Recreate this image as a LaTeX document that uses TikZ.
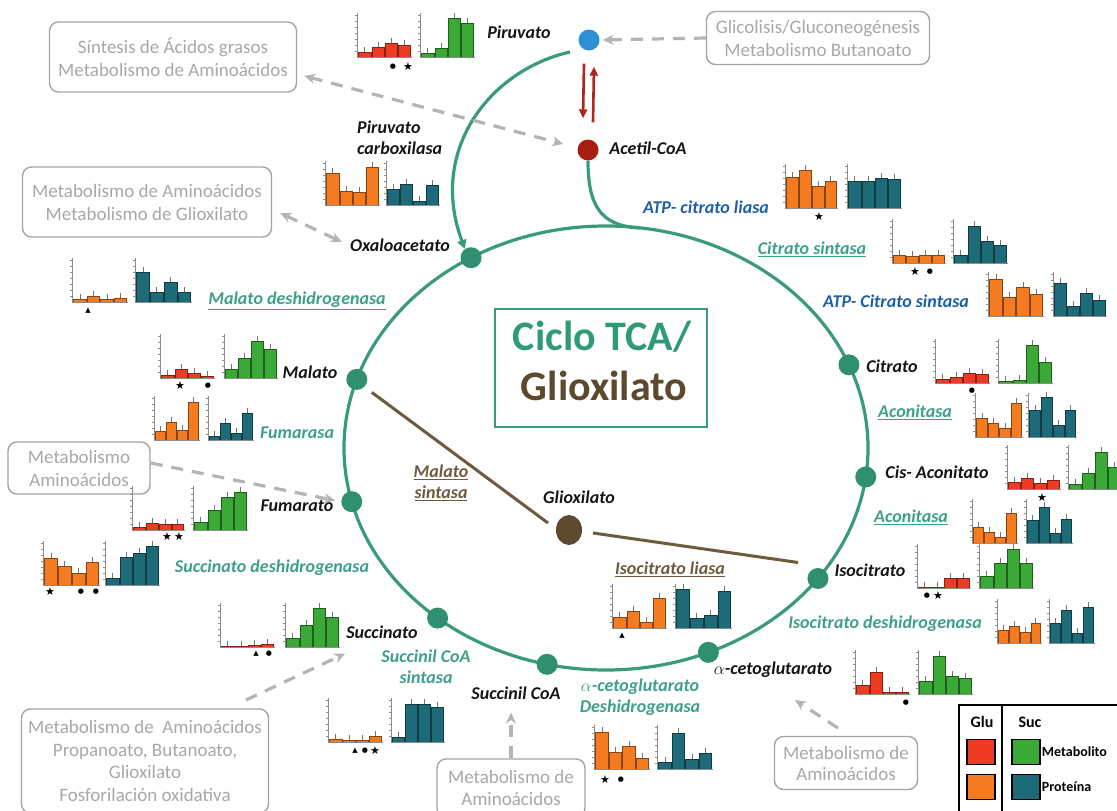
\documentclass[tikz,border=0pt]{standalone}
\usepackage{fontspec}
\setmainfont{Carlito}
\newfontfamily\symfont{DejaVu Sans}
\usetikzlibrary{arrows.meta,calc,shapes.geometric}

\definecolor{cyclegreen}{HTML}{3A9A7D}
\definecolor{nodegreen}{HTML}{2F8F70}
\definecolor{enzgreen}{HTML}{3FA08A}
\definecolor{titlegreen}{HTML}{2E9A78}
\definecolor{atpblue}{HTML}{1F5FA8}
\definecolor{labelblack}{HTML}{151515}
\definecolor{glxbrown}{HTML}{6E5A3C}
\definecolor{glxnode}{HTML}{5E4A2E}
\definecolor{titlebrown}{HTML}{5C4A2C}
\definecolor{pirblue}{HTML}{2E8FD8}
\definecolor{acred}{HTML}{A81E10}
\definecolor{redarrow}{HTML}{B0261C}
\definecolor{boxgray}{HTML}{A5A5A5}
\definecolor{boxtext}{HTML}{A8A8A8}
\definecolor{dashgray}{HTML}{B4B4B4}
\definecolor{barred}{HTML}{EE3B24}
\definecolor{barorange}{HTML}{F47B20}
\definecolor{bargreen}{HTML}{3AA935}
\definecolor{barteal}{HTML}{1D6B78}

% small bar chart: axis x, baseline y, colour, width, list of four bar heights
\newcommand{\tcabars}[5]{%
  \draw[chartaxis] (#1,{#2+1}) -- (#1,{#2-44});
  \foreach \k in {1,...,7}{\draw[chartaxis] ({#1-2},{#2-\k*6}) -- (#1,{#2-\k*6});}
  \foreach \h [count=\i] in {#5}{%
    \pgfmathsetmacro\bw{(#4-2)/4}%
    \pgfmathsetmacro\bx{#1+1.5+(\i-1)*\bw}%
    \filldraw[fill=#3, draw=#3!55!black, line width=0.5pt] (\bx,#2) rectangle ({\bx+\bw-1},{#2-\h});
    \draw[errbar] ({\bx+\bw/2-0.5},{#2-\h}) -- ({\bx+\bw/2-0.5},{#2-\h-5});
  }
  \draw[chartaxis] (#1,#2) -- ({#1+#4},#2);
}
% significance symbols under a bar
\newcommand{\sigstar}[2]{\node[sigsym, font=\symfont\fontsize{11}{11}\selectfont] at (#1,#2) {★};}
\newcommand{\sigdot}[2]{\node[sigsym, font=\symfont\fontsize{7}{7}\selectfont] at (#1,#2) {●};}
\newcommand{\sigtri}[2]{\node[sigsym, font=\symfont\fontsize{7}{7}\selectfont] at (#1,#2) {▲};}

\begin{document}
\begin{tikzpicture}[x=1pt,y=-1pt,
  lbl/.style={font=\fontsize{18}{21}\selectfont\bfseries\itshape, text=labelblack, inner sep=1pt},
  enz/.style={lbl, text=enzgreen, align=center},
  graybox/.style={draw=boxgray, line width=1.4pt, rounded corners=9pt, text=boxtext,
    font=\fontsize{19}{23}\selectfont, align=center, inner sep=0pt},
  dasharr/.style={draw=dashgray, line width=3.2pt, dash pattern=on 12pt off 9pt,
    -{Stealth[length=11pt,width=10pt]}},
  dbl/.style={{Stealth[length=11pt,width=10pt]}-{Stealth[length=11pt,width=10pt]}},
  cyc/.style={draw=cyclegreen, line width=3.2pt},
  tcanode/.style={circle, fill=nodegreen, minimum size=21pt, inner sep=0pt},
  metab/.style={circle, minimum size=21pt, inner sep=0pt},
  brownline/.style={draw=glxbrown, line width=3pt},
  redarr/.style={draw=redarrow, line width=2.6pt, -{Triangle[length=9pt,width=8pt]}},
  chartaxis/.style={draw=black!45, line width=0.5pt},
  errbar/.style={draw=black!55, line width=0.5pt},
  sigsym/.style={inner sep=0pt},
  legbox/.style={draw=black, line width=1.5pt}
]
\useasboundingbox (0,0) rectangle (1117,811);
\fill[white] (0,0) rectangle (1117,811);

% ---- cycle ----
\draw[cyc] (606,448) ellipse [x radius=262pt, y radius=222pt];

\node[tcanode] (oxa) at ({606+262*cos(121)},{448-222*sin(121)}) {};
\node[tcanode] (cit) at ({606+262*cos(22)},{448-222*sin(22)}) {};
\node[tcanode] (cis) at ({606+262*cos(-7.5)},{448-222*sin(-7.5)}) {};
\node[tcanode] (iso) at ({606+262*cos(-36)},{448-222*sin(-36)}) {};
\node[tcanode] (akg) at ({606+262*cos(-67)},{448-222*sin(-67)}) {};
\node[tcanode] (scoa) at ({606+262*cos(-103)},{448-222*sin(-103)}) {};
\node[tcanode] (suc) at ({606+262*cos(-130)},{448-222*sin(-130)}) {};
\node[tcanode] (fum) at ({606+262*cos(-166)},{448-222*sin(-166)}) {};
\node[tcanode] (mal) at ({606+262*cos(162)},{448-222*sin(162)}) {};

% ---- entry from pyruvate / acetyl-CoA ----
\node[metab, fill=pirblue] (pir) at (589,40) {};
\node[metab, fill=acred] (acoa) at (588,150) {};
\coordinate (pyrout) at (570,52);
\coordinate (acjoin) at (640,228);
\draw[cyc, -{Triangle[length=9pt,width=9pt]}] (pyrout) .. controls (490,70) and (428,150) .. (oxa.125);
\draw[cyc] (acoa.south) .. controls (588,205) and (600,226) .. (acjoin);
\draw[redarr] ([shift={(-5,13)}]pir.south) -- ([shift={(-5,-21)}]acoa.north);
\draw[redarr] ([shift={(5,-17)}]acoa.north) -- ([shift={(5,16)}]pir.south);

% ---- glyoxylate shunt ----
\node[ellipse, fill=glxnode, minimum width=26pt, minimum height=30pt, inner sep=0pt] (glx) at (569,530) {};
\draw[brownline] ([shift={(15,13)}]mal.center) -- ([shift={(-21,-7)}]glx.center);
\draw[brownline] ([shift={(24,3)}]glx.center) -- ([shift={(-20,-16)}]iso.center);

% ---- title ----
\node[draw=cyclegreen, line width=1.5pt, minimum width=212pt, minimum height=118pt] (title) at (601,368) {};
\node[anchor=base, font=\fontsize{42}{50}\selectfont\bfseries, text=titlegreen] at (602,350) {Ciclo TCA/};
\node[anchor=base, font=\fontsize{42}{50}\selectfont\bfseries, text=titlebrown] at (604,400) {Glioxilato};

% ---- metabolite labels ----
\node[lbl] (pirlbl) at (519,32) {Piruvato};
\node[lbl] (acoalbl) at (648,148) {Acetil-CoA};
\node[lbl, align=left, anchor=west] (pclbl) at (356,138) {Piruvato\\carboxilasa};
\node[lbl] (oxalbl) at (400,245) {Oxaloacetato};
\node[lbl] (mallbl) at (310,372) {Malato};
\node[lbl] (fumlbl) at (297,506) {Fumarato};
\node[lbl] (suclbl) at (382,632) {Succinato};
\node[lbl] (scoalbl) at (516,693) {Succinil CoA};
\node[lbl] (akglbl) at (773,670) {$\alpha$-cetoglutarato};
\node[lbl] (isolbl) at (870,570) {Isocitrato};
\node[lbl] (cislbl) at (937,472) {Cis- Aconitato};
\node[lbl] (citlbl) at (892,366) {Citrato};
\node[lbl] (glxlbl) at (579,497) {Glioxilato};

% ---- enzyme labels ----
\node[enz, text=atpblue] at (706,207) {ATP- citrato liasa};
\node[enz] at (812,249) {\underline{Citrato sintasa}};
\node[enz, text=atpblue] at (896,301) {ATP- Citrato sintasa};
\node[enz] at (915,412) {\underline{Aconitasa}};
\node[enz] at (911,517) {\underline{Aconitasa}};
\node[enz] at (885,624) {Isocitrato deshidrogenasa};
\node[enz] at (640,697) {$\alpha$-cetoglutarato\\Deshidrogenasa};
\node[enz] at (426,667) {Succinil CoA\\sintasa};
\node[enz] at (272,568) {Succinato deshidrogenasa};
\node[enz] at (297,433) {Fumarasa};
\node[enz] at (297,301) {\underline{Malato deshidrogenasa}};
\node[enz, text=glxbrown] at (441,483) {\underline{Malato}\\\underline{sintasa}};
\node[enz, text=glxbrown] at (670,569) {\underline{Isocitrato liasa}};

% ---- related pathways ----
\node[graybox, minimum width=223pt, minimum height=53pt] (glico) at (818,38) {Glicolisis/Gluconeogénesis\\Metabolismo Butanoato};
\node[graybox, minimum width=247pt, minimum height=70pt] (sint) at (173,57) {Síntesis de Ácidos grasos\\Metabolismo de Aminoácidos};
\node[graybox, minimum width=249pt, minimum height=70pt] (gbox) at (147,202) {Metabolismo de Aminoácidos\\Metabolismo de Glioxilato};
\node[graybox, minimum width=142pt, minimum height=52pt] (abox) at (79,468) {Metabolismo\\Aminoácidos};
\node[graybox, minimum width=247pt, minimum height=104pt, font=\fontsize{19}{22.5}\selectfont] (blbox) at (145,761) {Metabolismo de\ \ Aminoácidos\\Propanoato, Butanoato,\\Glioxilato\\Fosforilación oxidativa};
\node[graybox, minimum width=148pt, minimum height=58pt, font=\fontsize{19}{21.5}\selectfont] (mbox) at (511,788) {Metabolismo de\\Aminoácidos};
\node[graybox, minimum width=143pt, minimum height=53pt, font=\fontsize{19}{21}\selectfont] (rbox) at (846,763) {Metabolismo de\\Aminoácidos};

\draw[dasharr, shorten >=3pt] (glico.west) -- (pir.east);
\draw[dasharr, dbl] ([shift={(7,19)}]sint.east) -- ([shift={(-14,-6)}]acoa.west);
\draw[dasharr, dbl] ([shift={(8,11)}]gbox.east) -- ([shift={(-7,-3)}]oxalbl.west);
\draw[dasharr, shorten >=6pt] ([yshift=5pt]abox.east) -- (fum.west);
\coordinate (blstart) at (246,700);
\draw[dasharr] (blstart) -- ([shift={(0,14)}]suclbl.south west);
\draw[dasharr, shorten >=12pt] (mbox.north) -- (mbox.north |- scoalbl.south);
\coordinate (rstart) at (838,728);
\draw[dasharr] (rstart) -- (795,700);

% ---- bar charts ----
% Piruvato
\tcabars{357}{57}{barred}{55}{5,10,14,12}
\tcabars{420}{57}{bargreen}{55}{4,9,39,34}
\sigdot{393}{67}\sigstar{408}{67}
% Piruvato carboxilasa
\tcabars{325}{205}{barorange}{55}{32,14,13,38}
\tcabars{386}{205}{barteal}{54}{16,21,4,20}
% ATP- citrato liasa
\tcabars{785}{208}{barorange}{53}{31,38,22,27}
\tcabars{847}{208}{barteal}{55}{27,27,30,29}
\sigstar{819}{217}
% Citrato sintasa
\tcabars{892}{263}{barorange}{54}{8,7,8,8}
\tcabars{953}{263}{barteal}{55}{8,37,22,18}
\sigstar{915}{272}\sigdot{930}{272}
% ATP- Citrato sintasa
\tcabars{988}{316}{barorange}{56}{37,19,29,22}
\tcabars{1053}{316}{barteal}{54}{33,10,23,16}
% Citrato
\tcabars{935}{383}{barred}{55}{4,6,10,9}
\tcabars{998}{383}{bargreen}{55}{2,3,38,21}
\sigdot{972}{391}
% Aconitasa
\tcabars{975}{437}{barorange}{48}{19,14,9,34}
\tcabars{1028}{437}{barteal}{49}{27,40,12,27}
% Cis- Aconitato
\tcabars{1007}{489}{barred}{54}{7,11,6,9}
\tcabars{1068}{489}{bargreen}{54}{5,16,37,22}
\sigstar{1042}{498}
% Aconitasa
\tcabars{972}{543}{barorange}{46}{16,11,6,30}
\tcabars{1026}{543}{barteal}{47}{23,36,10,24}
% Isocitrato
\tcabars{917}{588}{barred}{54}{1,1,10,10}
\tcabars{979}{588}{bargreen}{55}{12,25,39,25}
\sigdot{927}{596}\sigstar{938}{596}
% Isocitrato deshidrogenasa
\tcabars{997}{643}{barorange}{45}{13,17,11,20}
\tcabars{1049}{643}{barteal}{46}{20,33,10,36}
% alpha-cetoglutarato
\tcabars{855}{694}{barred}{55}{9,22,2,2}
\tcabars{918}{694}{bargreen}{55}{13,38,18,16}
\sigdot{906}{703}
% Isocitrato liasa
\tcabars{612}{628}{barorange}{55}{11,17,6,30}
\tcabars{675}{628}{barteal}{57}{39,10,13,37}
\sigtri{622}{636}
% alpha-cetoglutarato deshidrogenasa
\tcabars{594}{769}{barorange}{56}{37,17,23,11}
\tcabars{657}{769}{barteal}{56}{7,36,10,16}
\sigstar{605}{780}\sigdot{621}{780}
% Succinil CoA sintasa
\tcabars{328}{742}{barorange}{55}{3,2,2,6}
\tcabars{391}{742}{barteal}{54}{5,38,38,35}
\sigtri{355}{751}\sigdot{365}{751}\sigstar{375}{751}
% Succinato
\tcabars{220}{647}{barred}{55}{1,1,2,3}
\tcabars{285}{647}{bargreen}{55}{9,22,39,30}
\sigtri{256}{654}\sigdot{269}{654}
% Succinato deshidrogenasa
\tcabars{43}{585}{barorange}{57}{27,19,12,23}
\tcabars{105}{585}{barteal}{55}{7,28,32,39}
\sigstar{50}{592}\sigdot{81}{592}\sigdot{96}{592}
% Fumarato
\tcabars{132}{530}{barred}{53}{3,7,6,6}
\tcabars{193}{530}{bargreen}{55}{8,20,33,38}
\sigstar{167}{537}\sigstar{179}{537}
% Fumarasa
\tcabars{154}{440}{barorange}{46}{9,18,10,38}
\tcabars{208}{440}{barteal}{46}{4,17,7,27}
% Malato
\tcabars{160}{378}{barred}{55}{3,9,5,2}
\tcabars{224}{378}{bargreen}{54}{9,20,37,29}
\sigstar{180}{386}\sigdot{208}{386}
% Malato deshidrogenasa
\tcabars{72}{302}{barorange}{56}{3,6,3,4}
\tcabars{135}{302}{barteal}{57}{30,10,20,10}
\sigtri{88}{311}

% ---- legend ----
\draw[line width=1.5pt] (959,705) rectangle (1125,818);
\draw[line width=1.5pt] (1002,705) -- (1002,818);
\node[font=\fontsize{16}{18}\selectfont\bfseries] (lglu) at (982,722) {Glu};
\node[font=\fontsize{16}{18}\selectfont\bfseries] (lsuc) at (1030,722) {Suc};
\node[legbox, fill=barred, minimum width=28pt, minimum height=25pt, inner sep=0pt] (lr) at (981,752) {};
\node[legbox, fill=barorange, minimum width=28pt, minimum height=25pt, inner sep=0pt] (lo) at (981,787) {};
\node[legbox, fill=bargreen, minimum width=28pt, minimum height=25pt, inner sep=0pt] (lg) at (1026,752) {};
\node[legbox, fill=barteal, minimum width=28pt, minimum height=25pt, inner sep=0pt] (lt) at (1026,787) {};
\node[anchor=west, inner sep=1pt, font=\fontsize{14}{16}\selectfont\bfseries] at (lg.east) {Metabolito};
\node[anchor=west, inner sep=1pt, font=\fontsize{14}{16}\selectfont\bfseries] at (lt.east) {Proteína};
\end{tikzpicture}
\end{document}
